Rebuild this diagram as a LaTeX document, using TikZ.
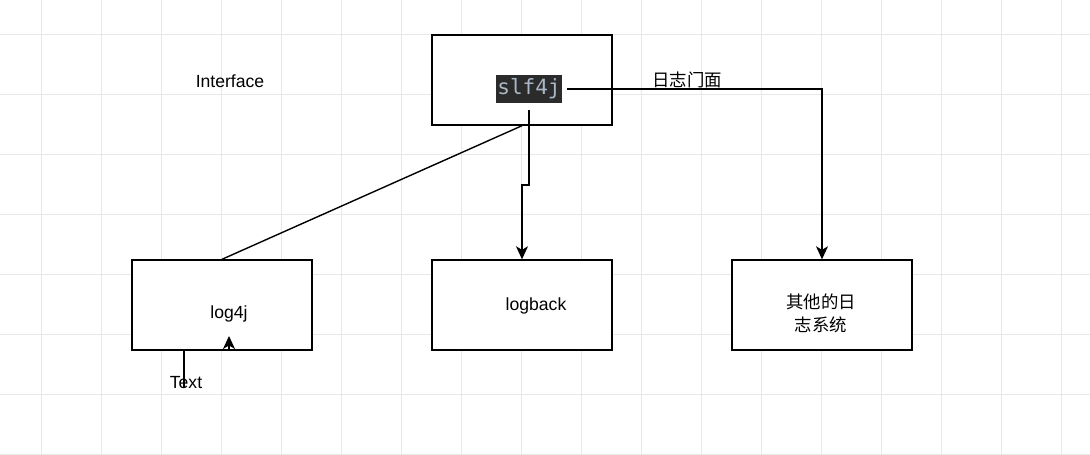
\documentclass[tikz,border=0pt]{standalone}
\usepackage{fontspec}
\setmainfont{Liberation Sans}
\newfontfamily\cjk{Noto Sans CJK SC}
\newfontfamily\codefont{DejaVu Sans Mono}
\usetikzlibrary{arrows.meta}
\definecolor{gridc}{HTML}{E8E8E8}
\definecolor{codebg}{HTML}{2B2B2B}
\definecolor{codefg}{HTML}{A9B7C6}
\tikzset{
  box/.style={draw=black, line width=1.4pt, minimum width=180pt, minimum height=90pt, inner sep=0pt, fill=white},
  lbl/.style={font=\fontsize{17.6}{22}\selectfont, inner sep=0pt, anchor=center},
  cjklbl/.style={font=\fontsize{17.4}{23}\selectfont\cjk, inner sep=0pt, align=center},
  conn/.style={line width=1.4pt, draw=black},
  tipped/.style={conn, -{Stealth[length=13pt, width=12pt, inset=3.5pt]}},
}
\begin{document}
\begin{tikzpicture}[x=1pt, y=-1pt]
\useasboundingbox (0,0) rectangle (1090,455);
\fill[white] (0,0) rectangle (1090,455);
% grid
\foreach \gx in {41.5,101.5,...,1090} \draw[gridc, line width=0.8pt] (\gx,0) -- (\gx,455);
\foreach \gy in {34,94,...,455} \draw[gridc, line width=0.8pt] (0,\gy) -- (1090,\gy);

% boxes
\node[box] (slfbox) at (522,80) {};
\node[box] (log4jbox) at (222,305) {};
\node[box] (logbackbox) at (522,305) {};
\node[box] (otherbox) at (822,305) {};

% labels
\node[fill=codebg, text=codefg, font=\fontsize{21}{24}\selectfont\codefont, inner xsep=1.5pt, inner ysep=0pt, minimum height=28pt, text height=15.5pt, text depth=4.5pt] (slf) at (529,89) {slf4j};
\node[lbl] (log4jlbl) at (229,314) {log4j};
\node[lbl] (logbacklbl) at (536,306) {logback};
\node[cjklbl] (otherlbl) at (821,313) {其他的日\\志系统};
\node[lbl] (iface) at (230,81) {Interface};

% connectors
\coordinate (slfR) at ([xshift=5pt]slf.east);
\coordinate (slfB) at (529,110);
\draw[conn] (slfbox.south) -- (log4jbox.north);
\draw[tipped] (slfB) -- (529,185) -- (522,185) -- (logbackbox.north);
\draw[tipped] (slfR) -- (otherbox.north |- slfR) -- (otherbox.north);
\node[cjklbl] (facade) at (687,80) {日志门面};

% Text edge on log4j
\coordinate (tA) at (184,350);
\coordinate (tB) at (184,387);
\draw[conn] (tA) -- (tB);
\node[lbl] (textlbl) at (186,383) {Text};
\coordinate (aB) at (229,350);
\coordinate (aT) at (229,336);
\draw[tipped] (aB) -- (aT);
\end{tikzpicture}
\end{document}
